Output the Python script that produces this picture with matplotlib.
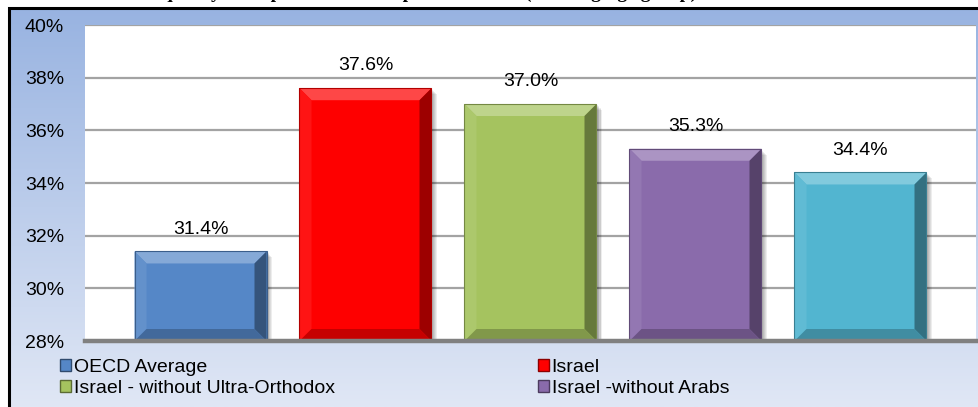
import numpy as np
import matplotlib
matplotlib.use("Agg")
import matplotlib.pyplot as plt
from matplotlib.patches import Polygon, Rectangle, Patch
from matplotlib.colors import to_rgb

# Share of income inequality by population group
CATEGORIES = [
    "OECD Average",
    "Israel",
    "Israel - without Ultra-Orthodox",
    "Israel -without Arabs",
    "Israel - without Arabs and Ultra-Orthodox",
]
VALUES = [31.4, 37.6, 37.0, 35.3, 34.4]
COLORS = ["#5587c7", "#fe0000", "#a5c35f", "#8a6bab", "#52b5d0"]
Y_TICKS = [28, 30, 32, 34, 36, 38, 40]
TITLE = "Inequality in disposable income per household (working-age group)"

FONT = "Liberation Sans"
W, H, DPI = 979, 407, 100


def shade(color, amount):
    """amount > 0 mixes toward white, < 0 toward black."""
    c = np.array(to_rgb(color))
    if amount >= 0:
        return tuple(c + (1 - c) * amount)
    return tuple(c * (1 + amount))


fig = plt.figure(figsize=(W / DPI, H / DPI), dpi=DPI)
fig.patch.set_facecolor("white")

# chart area background: blue vertical gradient inside a black frame
bg = fig.add_axes([9 / W, 0, 1 - 9 / W, (H - 8) / H], zorder=-1)
grad = np.linspace(0, 1, 256).reshape(-1, 1)
top_c = np.array(to_rgb("#98b3e1"))
bot_c = np.array(to_rgb("#e0e7f5"))
img = top_c[None, None, :] * (1 - grad[:, :, None]) + bot_c[None, None, :] * grad[:, :, None]
bg.imshow(img, extent=[0, 1, 0, 1], aspect="auto", origin="upper")
bg.set_xlim(0, 1)
bg.set_ylim(0, 1)
bg.axis("off")
bg.add_patch(Rectangle((0, -0.05), 1.05, 1.05, transform=bg.transAxes,
                       fill=False, edgecolor="black", lw=2.2, clip_on=False))

fig.text(0.425, 1.0 + 2 / H, TITLE, ha="center", va="baseline",
         fontfamily="Liberation Serif", fontweight="bold", fontsize=14)

# plot area
left, right, top, bottom = 85, 976, 25, 341
ax = fig.add_axes([left / W, (H - bottom) / H, (right - left) / W, (bottom - top) / H])
ax.set_facecolor("white")
x = np.arange(len(VALUES))
ax.set_xlim(-0.7, len(VALUES) - 0.3)
ax.set_ylim(Y_TICKS[0], Y_TICKS[-1])

for t in Y_TICKS[1:]:
    ax.axhline(t, color="#a3a3a3", lw=1.6, zorder=1)
ax.axhline(Y_TICKS[0], color="#808080", lw=3.2, zorder=6, clip_on=False)

bar_w = 0.8
bars = ax.bar(x, np.array(VALUES) - Y_TICKS[0], bottom=Y_TICKS[0], width=bar_w,
              color=COLORS, zorder=3, linewidth=0)

# pixel -> data scale for bevels and shadows
px_x = (ax.get_xlim()[1] - ax.get_xlim()[0]) / (right - left)
px_y = (ax.get_ylim()[1] - ax.get_ylim()[0]) / (bottom - top)
bev = 12
dx, dy = bev * px_x, bev * px_y

for b, col, val in zip(bars, COLORS, VALUES):
    x0 = b.get_x()
    x1 = x0 + b.get_width()
    y0 = Y_TICKS[0]
    y1 = val
    # soft shadow to the right
    for k in range(1, 7):
        ax.add_patch(Rectangle((x0 + k * px_x, y0), x1 - x0, y1 - y0 - k * px_y,
                               facecolor="black", alpha=0.07, lw=0, zorder=2))
    faces = [
        ([(x0, y1), (x1, y1), (x1 - dx, y1 - dy), (x0 + dx, y1 - dy)], shade(col, 0.28)),
        ([(x0, y0), (x0, y1), (x0 + dx, y1 - dy), (x0 + dx, y0 + dy)], shade(col, 0.08)),
        ([(x1, y0), (x1, y1), (x1 - dx, y1 - dy), (x1 - dx, y0 + dy)], shade(col, -0.38)),
        ([(x0, y0), (x1, y0), (x1 - dx, y0 + dy), (x0 + dx, y0 + dy)], shade(col, -0.22)),
    ]
    for pts, fc in faces:
        ax.add_patch(Polygon(pts, closed=True, facecolor=fc, edgecolor="none", zorder=4))
    ax.add_patch(Rectangle((x0, y0), x1 - x0, y1 - y0, fill=False,
                           edgecolor=shade(col, -0.3), lw=0.8, zorder=5))
    ax.annotate(f"{val:.1f}%", (b.get_x() + b.get_width() / 2, val),
                xytext=(0, 16), textcoords="offset points", ha="center", va="center",
                fontsize=14, fontfamily=FONT, color="black", zorder=7)

ax.set_yticks(Y_TICKS)
ax.set_yticklabels([f"{t}%" for t in Y_TICKS], fontfamily=FONT, fontsize=14)
ax.set_xticks([])
ax.tick_params(axis="y", length=0, pad=15)
for s in ax.spines.values():
    s.set_visible(False)

# legend: first four groups, two columns below the plot
handles = [Patch(facecolor=c, edgecolor=shade(c, -0.45), lw=1.0) for c in COLORS]
order_cols = [[0, 2], [1, 3]]
col_x = [60, 538]
for idx, cx in zip(order_cols, col_x):
    fig.legend([handles[i] for i in idx], [CATEGORIES[i] for i in idx],
               loc="upper left", bbox_to_anchor=(cx / W, (H - 359) / H),
               frameon=False, ncol=1, borderpad=0, borderaxespad=0,
               handlelength=0.55, handleheight=0.55, handletextpad=0.15,
               labelspacing=0.2, prop={"family": FONT, "size": 14})

fig.savefig("out.png", dpi=DPI)
